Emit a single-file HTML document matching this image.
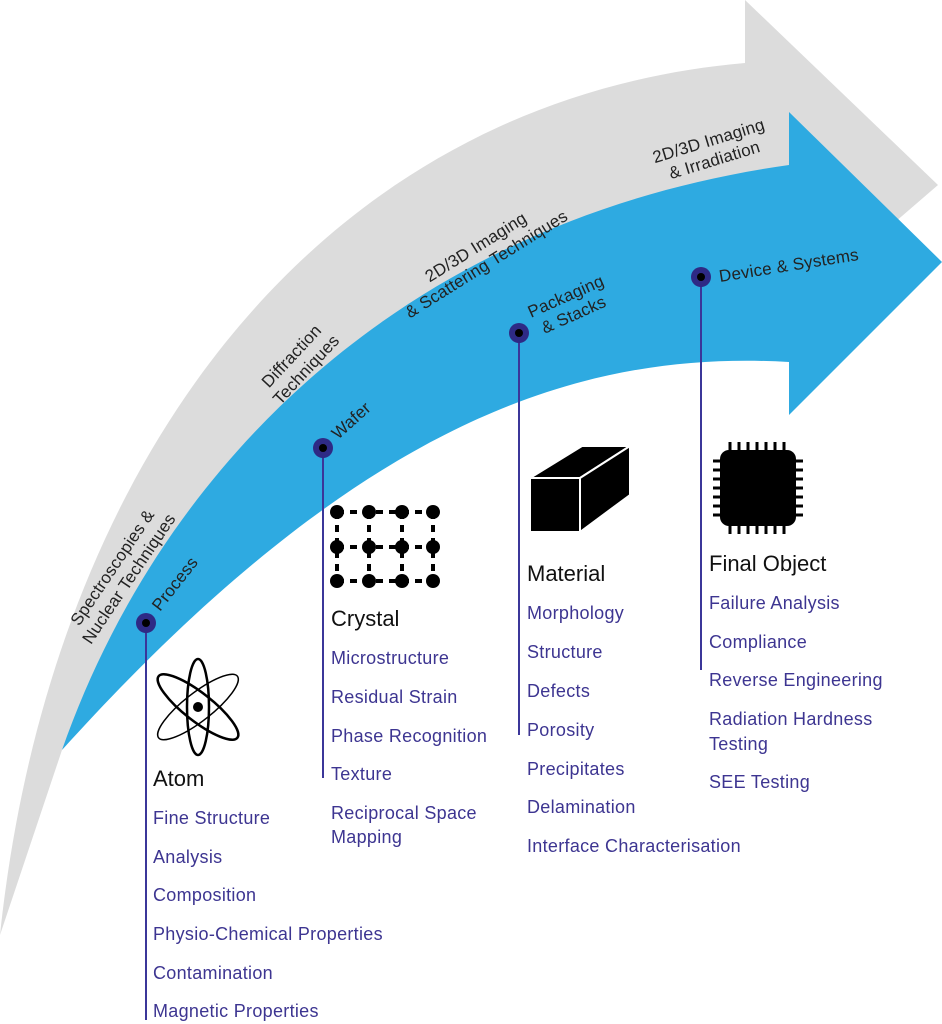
<!DOCTYPE html>
<html><head><meta charset="utf-8"><style>
body{margin:0;background:#fff;width:942px;height:1024px;overflow:hidden;font-family:"Liberation Sans",sans-serif}
svg{position:absolute;left:0;top:0}
</style></head><body>
<svg width="942" height="1024" viewBox="0 0 942 1024" xmlns="http://www.w3.org/2000/svg" font-family="Liberation Sans, sans-serif">
<path d="M0 935 C50 460 320 100 745 63 L745 0 L938 185 L880 235 L700 230 C420 300 170 520 62 750 Z" fill="#dcdcdc"/>
<path d="M62 750 C160 470 400 220 789 165 L789 112 L942 262 L789 415 L789 362 C580 350 360 420 62 750 Z" fill="#2eaae1"/>
<g font-size="17" fill="#222" letter-spacing="0.2">
<text transform="translate(122,574) rotate(-56)" text-anchor="middle"><tspan x="0" y="-6">Spectroscopies &amp;</tspan><tspan x="0" y="14">Nuclear Techniques</tspan></text>
<text transform="translate(300,364) rotate(-47)" text-anchor="middle"><tspan x="0" y="-6">Diffraction</tspan><tspan x="0" y="14">Techniques</tspan></text>
<text transform="translate(482,257) rotate(-32)" text-anchor="middle"><tspan x="0" y="-6">2D/3D Imaging</tspan><tspan x="0" y="14">&amp; Scattering Techniques</tspan></text>
<text transform="translate(712,152) rotate(-17)" text-anchor="middle"><tspan x="0" y="-6">2D/3D Imaging</tspan><tspan x="0" y="14">&amp; Irradiation</tspan></text>
<text transform="translate(160,612) rotate(-52)">Process</text>
<text transform="translate(338,440) rotate(-42)">Wafer</text>
<text transform="translate(531,318) rotate(-24)"><tspan x="0" y="0">Packaging</tspan><tspan x="6" y="20">&amp; Stacks</tspan></text>
<text transform="translate(720,282) rotate(-9)">Device &amp; Systems</text>
</g>
<g stroke="#3b3699" stroke-width="2">
<line x1="146" y1="623" x2="146" y2="1020"/><line x1="323" y1="448" x2="323" y2="778"/>
<line x1="519" y1="333" x2="519" y2="735"/><line x1="701" y1="277" x2="701" y2="670"/>
</g>
<g fill="#2e2a85"><circle cx="146" cy="623" r="10"/><circle cx="323" cy="448" r="10"/><circle cx="519" cy="333" r="10"/><circle cx="701" cy="277" r="10"/></g>
<g fill="#000"><circle cx="146" cy="623" r="4"/><circle cx="323" cy="448" r="4"/><circle cx="519" cy="333" r="4"/><circle cx="701" cy="277" r="4"/></g>
<g fill="none" stroke="#000" stroke-width="2.5">
<ellipse cx="198" cy="707" rx="11" ry="48"/>
<ellipse cx="198" cy="707" rx="50" ry="14" transform="rotate(38 198 707)"/>
<ellipse cx="198" cy="707" rx="50" ry="14" transform="rotate(-38 198 707)" stroke-width="1.5"/>
</g>
<circle cx="198" cy="707" r="5" fill="#000"/>
<g stroke="#000" stroke-width="4" stroke-dasharray="7 6">
<line x1="337" y1="512" x2="433" y2="512"/><line x1="337" y1="547" x2="433" y2="547"/><line x1="337" y1="581" x2="433" y2="581"/>
<line x1="337" y1="512" x2="337" y2="581"/><line x1="369" y1="512" x2="369" y2="581"/><line x1="402" y1="512" x2="402" y2="581"/><line x1="433" y1="512" x2="433" y2="581"/>
</g>
<g fill="#000">
<circle cx="337" cy="512" r="7"/><circle cx="369" cy="512" r="7"/><circle cx="402" cy="512" r="7"/><circle cx="433" cy="512" r="7"/>
<circle cx="337" cy="547" r="7"/><circle cx="369" cy="547" r="7"/><circle cx="402" cy="547" r="7"/><circle cx="433" cy="547" r="7"/>
<circle cx="337" cy="581" r="7"/><circle cx="369" cy="581" r="7"/><circle cx="402" cy="581" r="7"/><circle cx="433" cy="581" r="7"/>
</g>
<g fill="#000" stroke="#fff" stroke-width="2" stroke-linejoin="round">
<polygon points="530,478 580,478 580,532 530,532"/>
<polygon points="530,478 580,478 630,446 582,446"/>
<polygon points="580,478 630,446 630,495 580,532"/>
</g>
<g fill="#000">
<g stroke="#000" stroke-width="3">
<line x1="730" y1="442" x2="730" y2="534"/><line x1="739" y1="442" x2="739" y2="534"/><line x1="748" y1="442" x2="748" y2="534"/><line x1="757" y1="442" x2="757" y2="534"/><line x1="766" y1="442" x2="766" y2="534"/><line x1="775" y1="442" x2="775" y2="534"/><line x1="784" y1="442" x2="784" y2="534"/>
<line x1="713" y1="461" x2="803" y2="461"/><line x1="713" y1="470" x2="803" y2="470"/><line x1="713" y1="479" x2="803" y2="479"/><line x1="713" y1="488" x2="803" y2="488"/><line x1="713" y1="497" x2="803" y2="497"/><line x1="713" y1="506" x2="803" y2="506"/><line x1="713" y1="515" x2="803" y2="515"/>
</g>
<rect x="720" y="450" width="76" height="76" rx="9"/>
</g>
<g font-size="22" fill="#111">
<text x="153" y="786">Atom</text><text x="331" y="626">Crystal</text><text x="527" y="581">Material</text><text x="709" y="571">Final Object</text>
</g>
<g font-size="18" fill="#3d3591" letter-spacing="0.3">
<text x="153" y="824">Fine Structure</text><text x="153" y="863">Analysis</text><text x="153" y="901">Composition</text><text x="153" y="940">Physio-Chemical Properties</text><text x="153" y="979">Contamination</text><text x="153" y="1017">Magnetic Properties</text>
<text x="331" y="664">Microstructure</text><text x="331" y="703">Residual Strain</text><text x="331" y="742">Phase Recognition</text><text x="331" y="780">Texture</text><text x="331" y="819">Reciprocal Space</text><text x="331" y="843">Mapping</text>
<text x="527" y="619">Morphology</text><text x="527" y="658">Structure</text><text x="527" y="697">Defects</text><text x="527" y="736">Porosity</text><text x="527" y="775">Precipitates</text><text x="527" y="813">Delamination</text><text x="527" y="852">Interface Characterisation</text>
<text x="709" y="609">Failure Analysis</text><text x="709" y="648">Compliance</text><text x="709" y="686">Reverse Engineering</text><text x="709" y="725">Radiation Hardness</text><text x="709" y="750">Testing</text><text x="709" y="788">SEE Testing</text>
</g>
</svg>
</body></html>
